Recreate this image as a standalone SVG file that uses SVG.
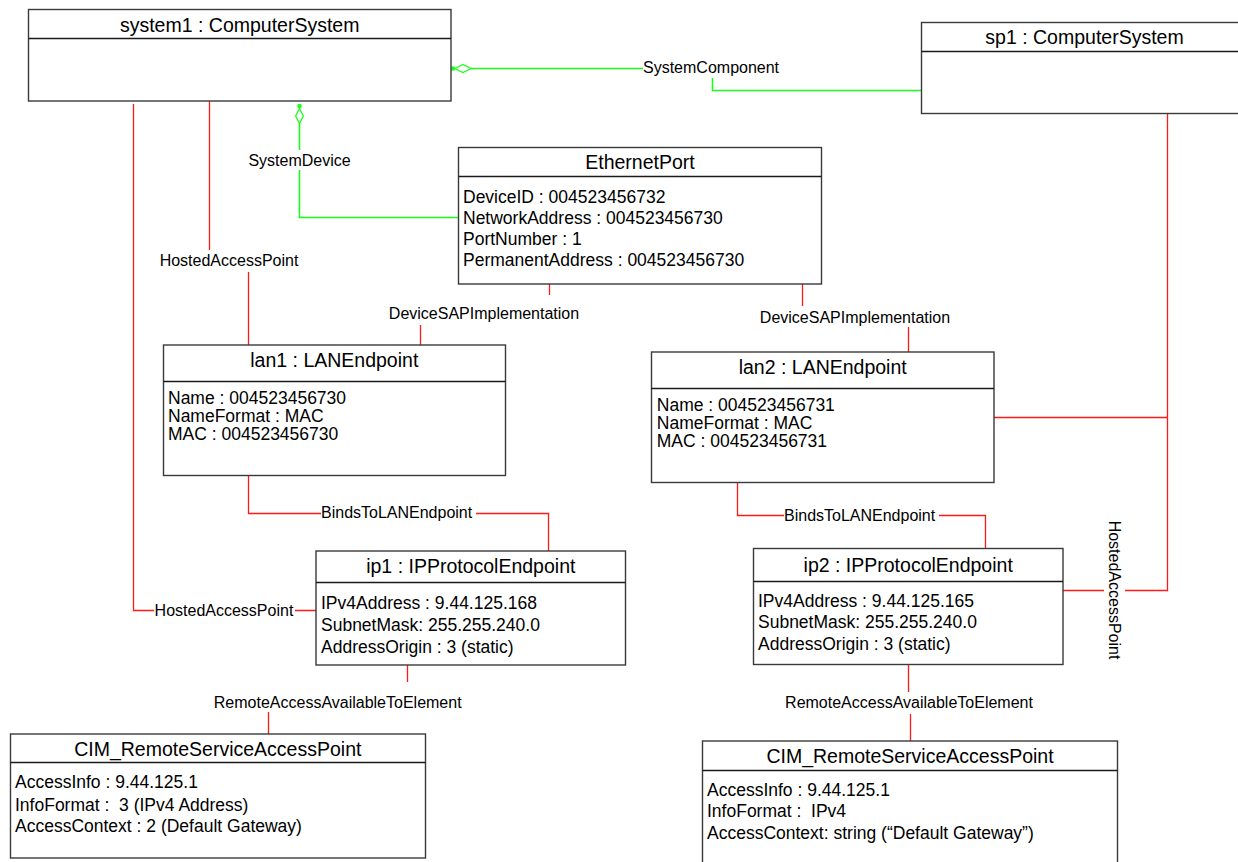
<svg xmlns="http://www.w3.org/2000/svg" width="1238" height="862" viewBox="0 0 1238 862">
<style>
text{font-family:"Liberation Sans",Arial,sans-serif;fill:#000}
.box{fill:#fff;stroke:#3a3a3a;stroke-width:1.4}
.div{stroke:#1a1a1a;stroke-width:1.4}
.t{font-size:19.5px;text-anchor:middle}
.a{font-size:17.5px}
.l{font-size:16px}
.lc{font-size:16px;text-anchor:middle}
.r{fill:none;stroke:#ff1a1a;stroke-width:1.3}
.g{fill:none;stroke:#1aff1a;stroke-width:1.6}
.gd{fill:#fff;stroke:#1aff1a;stroke-width:1.3}
</style>
<rect width="1238" height="862" fill="#fff"/>
<g id="connectors">
<path class="r" d="M209.5,101V250M248.5,272V345"/>
<path class="r" d="M133.5,104V610.5H154M295,610.5H316"/>
<path class="r" d="M549.5,284V295M420.5,325V345"/>
<path class="r" d="M802.5,284V306M908.5,327V352"/>
<path class="r" d="M248.5,475V513.5H321M476,513.5H548.5V551"/>
<path class="r" d="M737.5,483V515.5H784M939,515.5H985.5V548"/>
<path class="r" d="M407.5,665V682M268.5,712V734"/>
<path class="r" d="M908.5,665V692M910.5,714V741"/>
<path class="r" d="M1167.5,113V590.5H1125M1104,590.5H1063M994,417.5H1167.5"/>
<path class="g" d="M471,68.5H643M712.5,78V90.5H921"/>
<path class="gd" d="M455,68.5L463,64.5L471,68.5L463,72.5Z"/>
<circle cx="453" cy="68.5" r="2.3" fill="#1aff1a"/>
<path class="g" d="M299.5,123V150M299.5,170V217.5H459"/>
<path class="gd" d="M299.5,108.5L303.3,116L299.5,123.5L295.7,116Z"/>
<circle cx="299.5" cy="106" r="2.3" fill="#1aff1a"/>
<text class="l" x="643" y="73.3">SystemComponent</text>
<text class="lc" x="299.5" y="165.5">SystemDevice</text>
<text class="lc" x="229" y="266">HostedAccessPoint</text>
<text class="lc" x="484" y="319">DeviceSAPImplementation</text>
<text class="lc" x="855" y="322.7">DeviceSAPImplementation</text>
<text class="l" x="321" y="518.3">BindsToLANEndpoint</text>
<text class="l" x="784" y="521">BindsToLANEndpoint</text>
<text class="l" x="154.6" y="615.7">HostedAccessPoint</text>
<text class="lc" x="337.7" y="707.7">RemoteAccessAvailableToElement</text>
<text class="lc" x="909" y="708.3">RemoteAccessAvailableToElement</text>
<text class="lc" transform="translate(1108.5,590) rotate(90)" x="0" y="0">HostedAccessPoint</text>
</g>
<g id="system1">
<rect class="box" x="28.5" y="9.5" width="422.5" height="91.5"/>
<path class="div" d="M28.5,38.5H451"/>
<text class="t" x="239.7" y="32">system1 : ComputerSystem</text>
</g>
<g id="sp1">
<rect class="box" x="921.5" y="22.5" width="330" height="91"/>
<path class="div" d="M921.5,51.5H1251"/>
<text class="t" x="1084.5" y="44">sp1 : ComputerSystem</text>
</g>
<g id="ethernetport">
<rect class="box" x="458.5" y="147.5" width="363" height="136.5"/>
<path class="div" d="M458.5,176.5H821.5"/>
<text class="t" x="640" y="169.3">EthernetPort</text>
<text class="a" x="463" y="203.3">DeviceID : 004523456732</text>
<text class="a" x="463" y="224.3">NetworkAddress : 004523456730</text>
<text class="a" x="463" y="245.3">PortNumber : 1</text>
<text class="a" x="463" y="266.3">PermanentAddress : 004523456730</text>
</g>
<g id="lan1">
<rect class="box" x="163.5" y="345" width="342" height="130.5"/>
<path class="div" d="M163.5,381.5H505.5"/>
<text class="t" x="334.3" y="367.3">lan1 : LANEndpoint</text>
<text class="a" x="168" y="404">Name : 004523456730</text>
<text class="a" x="168" y="422">NameFormat : MAC</text>
<text class="a" x="168" y="440">MAC : 004523456730</text>
</g>
<g id="lan2">
<rect class="box" x="651.5" y="352" width="342.5" height="130.5"/>
<path class="div" d="M651.5,388.5H994"/>
<text class="t" x="822.7" y="374.3">lan2 : LANEndpoint</text>
<text class="a" x="656.8" y="411">Name : 004523456731</text>
<text class="a" x="656.8" y="429">NameFormat : MAC</text>
<text class="a" x="656.8" y="447">MAC : 004523456731</text>
</g>
<g id="ip1">
<rect class="box" x="316" y="551" width="309.5" height="114"/>
<path class="div" d="M316,582.5H625.5"/>
<text class="t" x="470.8" y="573.3">ip1 : IPProtocolEndpoint</text>
<text class="a" x="321" y="609">IPv4Address : 9.44.125.168</text>
<text class="a" x="321" y="630.7">SubnetMask: 255.255.240.0</text>
<text class="a" x="321" y="652.5">AddressOrigin : 3 (static)</text>
</g>
<g id="ip2">
<rect class="box" x="753.5" y="548.5" width="309.5" height="116"/>
<path class="div" d="M753.5,581.5H1063"/>
<text class="t" x="908.2" y="571.7">ip2 : IPProtocolEndpoint</text>
<text class="a" x="758" y="607.3">IPv4Address : 9.44.125.165</text>
<text class="a" x="758" y="628.3">SubnetMask: 255.255.240.0</text>
<text class="a" x="758" y="650">AddressOrigin : 3 (static)</text>
</g>
<g id="cim1">
<rect class="box" x="10.5" y="734" width="415" height="124"/>
<path class="div" d="M10.5,762.5H425.5"/>
<text class="t" x="217.8" y="756">CIM_RemoteServiceAccessPoint</text>
<text class="a" x="15" y="788.3">AccessInfo : 9.44.125.1</text>
<text class="a" x="15" y="810.5" xml:space="preserve">InfoFormat :  3 (IPv4 Address)</text>
<text class="a" x="15" y="832.3">AccessContext : 2 (Default Gateway)</text>
</g>
<g id="cim2">
<rect class="box" x="702.5" y="741" width="415" height="130"/>
<path class="div" d="M702.5,770.5H1117.5"/>
<text class="t" x="910" y="763.3">CIM_RemoteServiceAccessPoint</text>
<text class="a" x="707" y="796">AccessInfo : 9.44.125.1</text>
<text class="a" x="707" y="817.3" xml:space="preserve">InfoFormat :  IPv4</text>
<text class="a" x="707" y="839">AccessContext: string (“Default Gateway”)</text>
</g>
</svg>
